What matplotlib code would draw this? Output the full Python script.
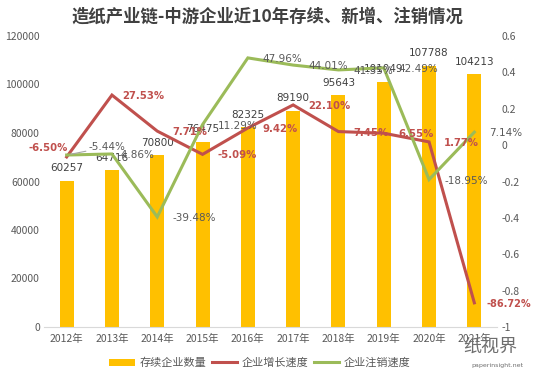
import matplotlib
matplotlib.use("Agg")
import matplotlib.pyplot as plt
from matplotlib.patches import Patch
from matplotlib.lines import Line2D

plt.rcParams['font.family'] = ['Noto Sans CJK SC', 'DejaVu Sans']

years = ['2012年', '2013年', '2014年', '2015年', '2016年', '2017年', '2018年', '2019年', '2020年', '2021年']
stock = [60257, 64716, 70800, 76475, 82325, 89190, 95643, 101049, 107788, 104213]
growth = [-0.0650, 0.2753, 0.0771, -0.0509, 0.0942, 0.2210, 0.0745, 0.0655, 0.0177, -0.8672]
cancel = [-0.0544, -0.0486, -0.3948, 0.1129, 0.4796, 0.4401, 0.4135, 0.4249, -0.1895, 0.0714]
left_ticks = [0, 20000, 40000, 60000, 80000, 100000, 120000]
right_ticks = [-1, -0.8, -0.6, -0.4, -0.2, 0, 0.2, 0.4, 0.6]
right_labels = ['-1', '-0.8', '-0.6', '-0.4', '-0.2', '0', '0.2', '0.4', '0.6']

BAR = '#FFC000'
RED = '#C0504D'
GREEN = '#9BBB59'
TXT = '#595959'

fig = plt.figure(figsize=(5.34, 3.73), dpi=100)
ax = fig.add_axes([44/534, 1-327/373, (497-44)/534, (327-36)/373])
ax2 = ax.twinx()

x = list(range(len(years)))
ax.bar(x, stock, width=0.31, color=BAR, zorder=1)
ax.set_xlim(-0.5, len(years)-0.5)
ax.set_ylim(0, 120000)
ax.set_yticks(left_ticks)
ax.set_yticklabels([str(t) for t in left_ticks])
ax.set_xticks(x)
ax.set_xticklabels(years)

ax2.plot(x, growth, color=RED, lw=2.2, zorder=3, solid_joinstyle='miter')
ax2.plot(x, cancel, color=GREEN, lw=2.2, zorder=3, solid_joinstyle='miter')
ax2.set_ylim(-1, 0.6)
ax2.set_yticks(right_ticks)
ax2.set_yticklabels(right_labels)

for a in (ax, ax2):
    for s in a.spines.values():
        s.set_visible(False)
    a.tick_params(length=0, labelsize=7.5, labelcolor=TXT, pad=3)
ax.spines['bottom'].set_visible(True)
ax.spines['bottom'].set_color('#D9D9D9')
ax.tick_params(axis='x', labelsize=7.5, pad=5)

# bar labels
for xi, v in zip(x, stock):
    ax.annotate(str(v), (xi, v), xytext=(0, 12.5), textcoords='offset pixels',
                ha='center', va='center', fontsize=7.5, color='#404040',
                family=['DejaVu Sans'], zorder=5)

# red labels
for i, v in enumerate(growth):
    if i == 0:
        ax2.annotate(f'{v*100:.2f}%', (i, v), xytext=(1, 9), textcoords='offset pixels',
                     ha='right', va='center', fontsize=7.3, color=RED, fontweight='bold',
                     family=['DejaVu Sans'])
    else:
        dx = 10 if i == 1 else (12 if i == 9 else 15)
        ax2.annotate(f'{v*100:.2f}%', (i, v), xytext=(dx, -1), textcoords='offset pixels',
                     ha='left', va='center', fontsize=7.3 if i != 9 else 7.0, color=RED,
                     fontweight='bold', family=['DejaVu Sans'])

# green labels
for i, v in enumerate(cancel):
    if i == 0:
        ax2.annotate(f'{v*100:.2f}%', (i, v), xytext=(22, 8), textcoords='offset pixels',
                     ha='left', va='center', fontsize=7.5, color=TXT,
                     family=['DejaVu Sans'],
                     arrowprops=dict(arrowstyle='-', color='#A6A6A6', lw=0.8,
                                     shrinkA=0, shrinkB=3))
    elif i == 1:
        ax2.annotate(f'{v*100:.2f}%', (i, v), xytext=(6, -1), textcoords='offset pixels',
                     ha='left', va='center', fontsize=7.5, color=TXT,
                     family=['DejaVu Sans'])
    else:
        ax2.annotate(f'{v*100:.2f}%', (i, v), xytext=(15, -1), textcoords='offset pixels',
                     ha='left', va='center', fontsize=7.5, color=TXT,
                     family=['DejaVu Sans'])

fig.text(0.5, 1-17/373, '造纸产业链-中游企业近10年存续、新增、注销情况', ha='center', va='center',
         fontsize=12.5, fontweight='bold', color='#404040')

handles = [Patch(facecolor=BAR, edgecolor='none'),
           Line2D([], [], color=RED, lw=2.2),
           Line2D([], [], color=GREEN, lw=2.2)]
fig.legend(handles, ['存续企业数量', '企业增长速度', '企业注销速度'], loc='center',
           bbox_to_anchor=(260/534, 1-363/373), ncol=3, frameon=False, fontsize=8,
           handlelength=2.3, handleheight=0.6, handletextpad=0.4, columnspacing=0.5,
           labelcolor=TXT)

# watermark
fig.text(490/534, 1-347/373, '纸视界', ha='center', va='center', fontsize=13,
         color='#6E6E6E', family=['Noto Sans CJK SC'])
fig.text(497/534, 1-366/373, 'paperinsight.net', ha='center', va='center', fontsize=4.5,
         color='#6E6E6E', family=['DejaVu Sans'])

fig.savefig('out.png', dpi=100)
